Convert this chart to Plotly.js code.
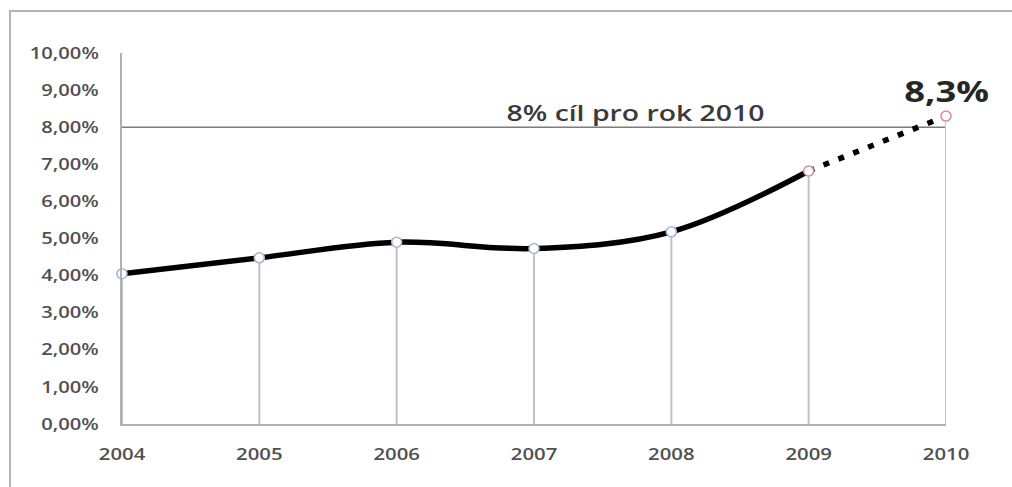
<!DOCTYPE html>
<html>
<head>
<meta charset="utf-8">
<script src="https://cdn.plot.ly/plotly-3.0.1.min.js"></script>
<style>
  html, body { margin: 0; padding: 0; background: #ffffff; overflow: hidden; }
  #frame {
    position: absolute; left: 9px; top: 10px;
    width: 1003px; height: 477px;
    border-top: 2px solid #b4b4b4; border-left: 2px solid #b4b4b4;
    box-sizing: border-box; background: #ffffff;
  }
  #chart { width: 1001px; height: 475px; }
</style>
</head>
<body>
<div id="frame"><div id="chart"></div></div>
<script>
// Share of renewable energy, 2004–2010 (2010 is the projected value)
const years = [2004, 2005, 2006, 2007, 2008, 2009, 2010];
const share = [4.05, 4.48, 4.90, 4.73, 5.18, 6.82, 8.3];
const target = 8;
const targetLabel = target + '% cíl pro rok 2010';
const yTicks = [0, 1, 2, 3, 4, 5, 6, 7, 8, 9, 10];
const yTickText = yTicks.map(v => v.toFixed(2).replace('.', ',') + '%');
const markerEdge = ['#a3b6d4', '#a3b6d4', '#a3b6d4', '#a3b6d4', '#a3b6d4', '#d68f90', '#d68f90'];

const lastActual = years.indexOf(2009);
const actualX = years.slice(0, lastActual + 1);
const actualY = share.slice(0, lastActual + 1);
const projX = years.slice(lastActual);
const projY = share.slice(lastActual);

const fmt = v => v.toFixed(1).replace('.', ',') + '%';

const traces = [
  // grey drop lines from each point down to the axis
  {
    x: years, y: share, type: 'scatter', mode: 'markers',
    marker: { size: 1, opacity: 0 },
    error_y: {
      type: 'data', symmetric: false,
      array: share.map(() => 0), arrayminus: share,
      color: '#c3c3c3', thickness: 2, width: 0
    },
    cliponaxis: false, hoverinfo: 'skip', showlegend: false
  },
  {
    x: actualX, y: actualY, type: 'scatter', mode: 'lines',
    line: { color: '#000000', width: 5.5, shape: 'spline', smoothing: 1 },
    cliponaxis: false, hoverinfo: 'skip', showlegend: false
  },
  {
    x: projX, y: projY, type: 'scatter', mode: 'lines',
    line: { color: '#000000', width: 5.5, dash: '6px,10px' },
    cliponaxis: false, hoverinfo: 'skip', showlegend: false
  },
  {
    x: years, y: share, type: 'scatter', mode: 'markers',
    marker: { size: 10, color: '#ffffff', line: { color: markerEdge, width: 1.6 } },
    cliponaxis: false, hoverinfo: 'skip', showlegend: false
  }
];

const tickFont = { family: 'Open Sans, sans-serif', size: 16, color: '#505050', weight: 600 };

const layout = {
  width: 1001, height: 475,
  margin: { l: 111, r: 66, t: 41, b: 63 },
  paper_bgcolor: '#ffffff', plot_bgcolor: '#ffffff',
  showlegend: false,
  xaxis: {
    range: [years[0], years[years.length - 1]],
    tickvals: years, ticktext: years.map(String),
    showgrid: false, zeroline: false,
    showline: true, linecolor: '#b0b0b0', linewidth: 2,
    ticks: '', tickfont: tickFont, ticklabelstandoff: 15
  },
  yaxis: {
    range: [0, 10],
    tickvals: yTicks, ticktext: yTickText,
    showgrid: false, zeroline: false,
    showline: true, linecolor: '#b0b0b0', linewidth: 2,
    ticks: '', tickfont: tickFont, ticklabelstandoff: 18
  },
  shapes: [
    {
      type: 'line', xref: 'x', yref: 'y', layer: 'below',
      x0: years[0], x1: years[years.length - 1], y0: target, y1: target,
      line: { color: '#7c7c7c', width: 1.6 }
    }
  ],
  annotations: [
    {
      x: 2007.74, y: target, xref: 'x', yref: 'y',
      xanchor: 'center', yanchor: 'bottom', yshift: -2,
      text: targetLabel, showarrow: false,
      font: { family: 'Open Sans, sans-serif', size: 21, color: '#3a3a3a', weight: 600 }
    },
    {
      x: years[years.length - 1], y: share[share.length - 1], xref: 'x', yref: 'y',
      xanchor: 'center', yanchor: 'middle', yshift: 25,
      text: '<b>' + fmt(share[share.length - 1]) + '</b>', showarrow: false,
      font: { family: 'Open Sans, sans-serif', size: 28, color: '#262626' }
    }
  ]
};

// Widen the lettering horizontally so it keeps its broad look
function stretch(el, k) {
  const w = el.getComputedTextLength();
  if (w > 0) {
    el.setAttribute('textLength', (w * k).toFixed(1));
    el.setAttribute('lengthAdjust', 'spacingAndGlyphs');
  }
}

Plotly.newPlot('chart', traces, layout, { staticPlot: true, displayModeBar: false }).then(() => {
  document.querySelectorAll('#chart .xtick text').forEach(t => stretch(t, 1.27));
  document.querySelectorAll('#chart .ytick text').forEach(t => stretch(t, 1.26));
  const ann = document.querySelectorAll('#chart .annotation-text');
  if (ann[0]) stretch(ann[0], 1.35);
  if (ann[1]) stretch(ann[1], 1.3);
});
</script>
</body>
</html>
